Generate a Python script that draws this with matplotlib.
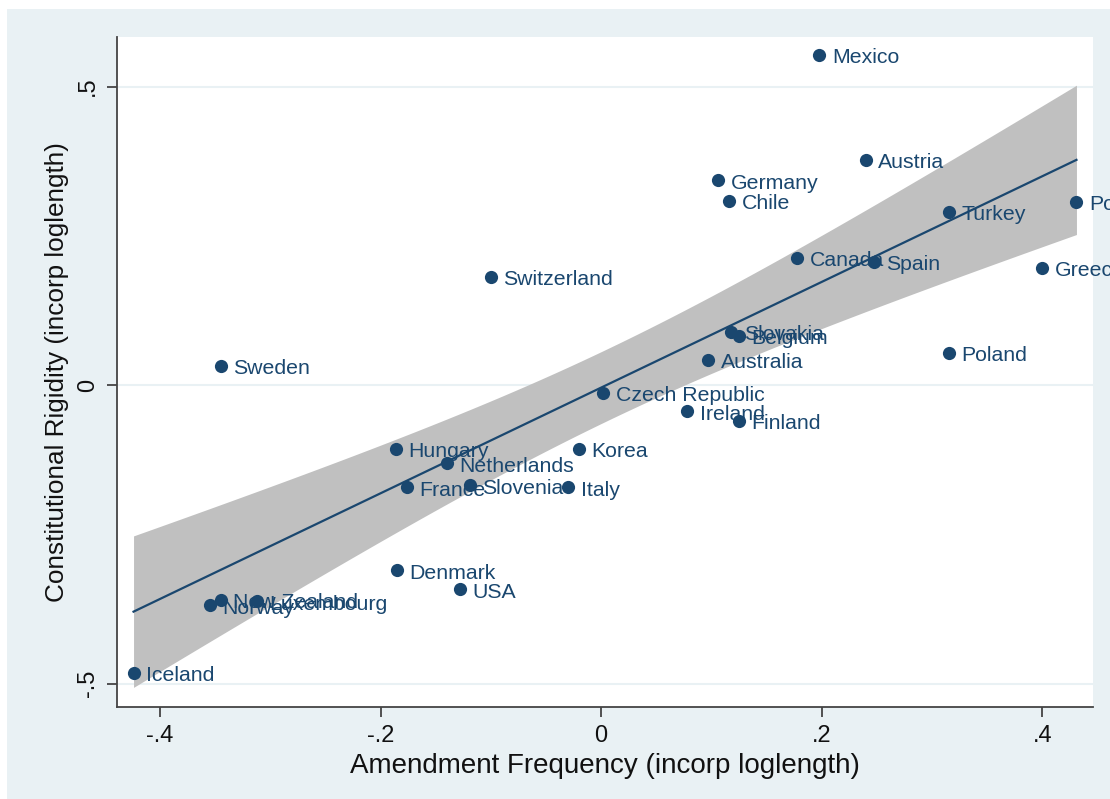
import numpy as np
import matplotlib
matplotlib.use('agg')
import matplotlib.pyplot as plt
from matplotlib.patches import Rectangle

matplotlib.rc('font', family=['Liberation Sans', 'DejaVu Sans'])

# Data: amendment frequency (x) vs constitutional rigidity (y)
countries = ['Mexico', 'Austria', 'Germany', 'Chile', 'Turkey', 'Portugal',
             'Canada', 'Spain', 'Greece', 'Switzerland', 'Slovakia', 'Belgium',
             'Australia', 'Poland', 'Sweden', 'Czech Republic', 'Ireland',
             'Finland', 'Hungary', 'Korea', 'Netherlands', 'France', 'Slovenia',
             'Italy', 'Denmark', 'USA', 'New Zealand', 'Norway', 'Luxembourg',
             'Iceland']
amend_freq = [0.198, 0.240, 0.106, 0.116, 0.315, 0.431,
              0.178, 0.247, 0.400, -0.100, 0.118, 0.125,
              0.097, 0.315, -0.345, 0.002, 0.078,
              0.125, -0.186, -0.020, -0.140, -0.176, -0.119,
              -0.030, -0.185, -0.128, -0.345, -0.355, -0.312,
              -0.424]
rigidity = [0.553, 0.377, 0.343, 0.308, 0.290, 0.307,
            0.213, 0.206, 0.196, 0.181, 0.089, 0.082,
            0.042, 0.054, 0.032, -0.013, -0.044,
            -0.060, -0.107, -0.107, -0.131, -0.171, -0.168,
            -0.171, -0.310, -0.342, -0.360, -0.369, -0.362,
            -0.482]
xticks = [-0.4, -0.2, 0, 0.2, 0.4]
xticklabels = ['-.4', '-.2', '0', '.2', '.4']
yticks = [-0.5, 0, 0.5]
yticklabels = ['-.5', '0', '.5']

navy = '#1a476f'
bg = '#e9f1f4'

x = np.array(amend_freq)
y = np.array(rigidity)

# Linear fit with 95% CI of the prediction (like Stata lfitci)
n = len(x)
b1, b0 = np.polyfit(x, y, 1)
resid = y - (b0 + b1 * x)
s = np.sqrt(np.sum(resid ** 2) / (n - 2))
xs = np.linspace(x.min(), x.max(), 200)
se = s * np.sqrt(1.0 / n + (xs - x.mean()) ** 2 / np.sum((x - x.mean()) ** 2))
tval = 2.048  # t(0.975, 28)
fit = b0 + b1 * xs

fig = plt.figure(figsize=(11.1, 7.99), dpi=100)
fig.patches.append(Rectangle((7 / 1110, 0), 1.0, 1 - 9 / 799, transform=fig.transFigure,
                             facecolor=bg, edgecolor='none', zorder=-10))
ax = fig.add_axes([117 / 1110, (799 - 707) / 799, (1093 - 117) / 1110, (707 - 37) / 799])
ax.set_facecolor('white')

ax.fill_between(xs, fit - tval * se, fit + tval * se, color='#c0c0c0', lw=0, zorder=1)
ax.plot(xs, fit, color=navy, lw=1.6, zorder=2)
ax.plot(x, y, 'o', color=navy, ms=9.5, mec='none', zorder=3)
for name, xi, yi in zip(countries, x, y):
    ax.annotate(name, (xi, yi), xytext=(9, -2), textcoords='offset points',
                ha='left', va='center', fontsize=15.3, color=navy, zorder=4)

for yt in yticks:
    ax.axhline(yt, color=bg, lw=1.5, zorder=0)

ax.set_xlim(-0.439, 0.446)
ax.set_ylim(-0.539, 0.583)
ax.set_xticks(xticks)
ax.set_xticklabels(xticklabels)
ax.set_yticks(yticks)
ax.set_yticklabels(yticklabels, rotation=90, va='center')
ax.tick_params(axis='both', labelsize=17, length=7, width=1.3, color='#444444',
               labelcolor='#111111', pad=6)
for side in ['top', 'right']:
    ax.spines[side].set_visible(False)
for side in ['left', 'bottom']:
    ax.spines[side].set_color('#444444')
    ax.spines[side].set_linewidth(1.3)

ax.set_xlabel('Amendment Frequency (incorp loglength)', fontsize=20, color='#111111', labelpad=4)
ax.set_ylabel('Constitutional Rigidity (incorp loglength)', fontsize=18.8, color='#111111', labelpad=6)

fig.savefig('out.png', dpi=100)
